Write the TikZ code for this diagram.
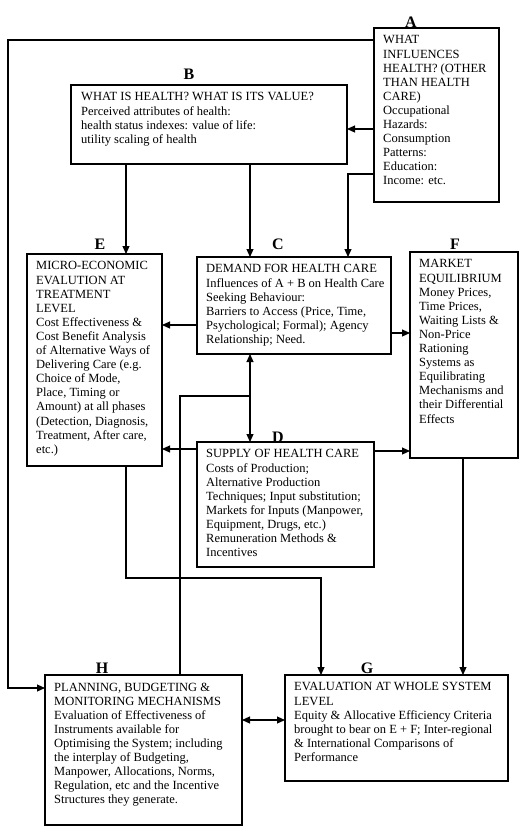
\documentclass[tikz,border=0pt]{standalone}
\usepackage{fontspec}
\setmainfont{Liberation Serif}
\usetikzlibrary{arrows.meta, positioning}

\begin{document}
\begin{tikzpicture}[x=1pt, y=-1pt,
    box/.style={draw, line width=1.2pt, anchor=north west,
        inner sep=0pt, outer sep=0pt},
    txt/.style={anchor=north west, align=left, inner sep=0pt,
        font=\fontsize{12.5}{14.1}\selectfont},
    lbl/.style={anchor=base, inner sep=0pt,
        font=\fontsize{16}{16}\selectfont\bfseries},
    link/.style={line width=1.1pt},
    arr/.style={link, -{Triangle[length=8pt,width=7pt]}},
    both/.style={link, {Triangle[length=8pt,width=7pt]}-{Triangle[length=8pt,width=7pt]}}]

    \useasboundingbox (0,0) rectangle (523,831);

    % boxes
    \node[box, minimum width=125pt, minimum height=174pt] (A) at (374,28) {};
    \node[box, minimum width=276pt, minimum height=79pt]  (B) at (71,85) {};
    \node[box, minimum width=135pt, minimum height=212pt] (E) at (27,254) {};
    \node[box, minimum width=194pt, minimum height=97pt]  (C) at (197,257) {};
    \node[box, minimum width=108pt, minimum height=206pt] (F) at (410,252) {};
    \node[box, minimum width=177pt, minimum height=125pt] (D) at (197,442) {};
    \node[box, minimum width=197pt, minimum height=150pt] (H) at (45,675) {};
    \node[box, minimum width=223pt, minimum height=106pt] (G) at (285,675) {};

    % letters
    \node[lbl] (lA) at (411,27) {A};
    \node[lbl] (lB) at (189,79) {B};
    \node[lbl] (lE) at (100,249) {E};
    \node[lbl] (lC) at (278,249) {C};
    \node[lbl] (lF) at (455,249) {F};
    \node[lbl] (lD) at (278,442) {D};
    \node[lbl] (lH) at (102,673) {H};
    \node[lbl] (lG) at (367,673) {G};

    % texts
    \node[txt] (tA) at ([shift={(9pt,-7.5pt)}]A.north west)
        {WHAT\\INFLUENCES\\HEALTH? (OTHER\\THAN HEALTH\\CARE)\\Occupational\\Hazards:\\Consumption\\Patterns:\\Education:\\Income: etc.};
    \node[txt] (tB) at ([shift={(10pt,-7.5pt)}]B.north west)
        {WHAT IS HEALTH? WHAT IS ITS VALUE?\\Perceived attributes of health:\\health status indexes: value of life:\\utility scaling of health};
    \node[txt] (tE) at ([shift={(9pt,-7.5pt)}]E.north west)
        {MICRO-ECONOMIC\\EVALUTION AT\\TREATMENT\\LEVEL\\Cost Effectiveness \&\\Cost Benefit Analysis\\of Alternative Ways of\\Delivering Care (e.g.\\Choice of Mode,\\Place, Timing or\\Amount) at all phases\\(Detection, Diagnosis,\\Treatment, After care,\\etc.)};
    \node[txt] (tC) at ([shift={(9pt,-7.5pt)}]C.north west)
        {DEMAND FOR HEALTH CARE\\Influences of A + B on Health Care\\Seeking Behaviour:\\Barriers to Access (Price, Time,\\Psychological; Formal); Agency\\Relationship; Need.};
    \node[txt] (tF) at ([shift={(9pt,-7.5pt)}]F.north west)
        {MARKET\\EQUILIBRIUM\\Money Prices,\\Time Prices,\\Waiting Lists \&\\Non-Price\\Rationing\\Systems as\\Equilibrating\\Mechanisms and\\their Differential\\Effects};
    \node[txt] (tD) at ([shift={(9pt,-7.5pt)}]D.north west)
        {SUPPLY OF HEALTH CARE\\Costs of Production;\\Alternative Production\\Techniques; Input substitution;\\Markets for Inputs (Manpower,\\Equipment, Drugs, etc.)\\Remuneration Methods \&\\Incentives};
    \node[txt] (tH) at ([shift={(9pt,-7.5pt)}]H.north west)
        {PLANNING, BUDGETING \&\\MONITORING MECHANISMS\\Evaluation of Effectiveness of\\Instruments available for\\Optimising the System; including\\the interplay of Budgeting,\\Manpower, Allocations, Norms,\\Regulation, etc and the Incentive\\Structures they generate.};
    \node[txt] (tG) at ([shift={(9pt,-7.5pt)}]G.north west)
        {EVALUATION AT WHOLE SYSTEM\\LEVEL\\Equity \& Allocative Efficiency Criteria\\brought to bear on E + F; Inter-regional\\\& International Comparisons of\\Performance};

    % connectors
    \coordinate (turn) at (250,396);
    \draw[arr] (A.west |- 0,40) -- (8,40) |- (H.west |- 0,688);
    \draw[arr] (A.west |- 0,129) -- (B.east |- 0,129);
    \draw[arr] (A.west |- 0,174) -| (C.north -| 348,0);
    \draw[arr] (B.south -| 126,0) -- (E.north -| 126,0);
    \draw[arr] (B.south -| 250,0) -- (C.north -| 250,0);
    \draw[arr] (C.west |- 0,325) -- (E.east |- 0,325);
    \draw[arr] (C.east |- 0,333) -- (F.west |- 0,333);
    \draw[both] (C.south -| 250,0) -- (D.north -| 250,0);
    \draw[arr] (D.west |- 0,449) -- (E.east |- 0,449);
    \draw[arr] (D.east |- 0,451) -- (F.west |- 0,451);
    \draw[link] (H.north -| 180,0) |- (turn);
    \draw[arr] (E.south -| 126,0) -- (126,578) -| (G.north -| 321,0);
    \draw[arr] (F.south -| 463,0) -- (G.north -| 463,0);
    \draw[both] (H.east |- 0,720) -- (G.west |- 0,720);

\end{tikzpicture}
\end{document}
